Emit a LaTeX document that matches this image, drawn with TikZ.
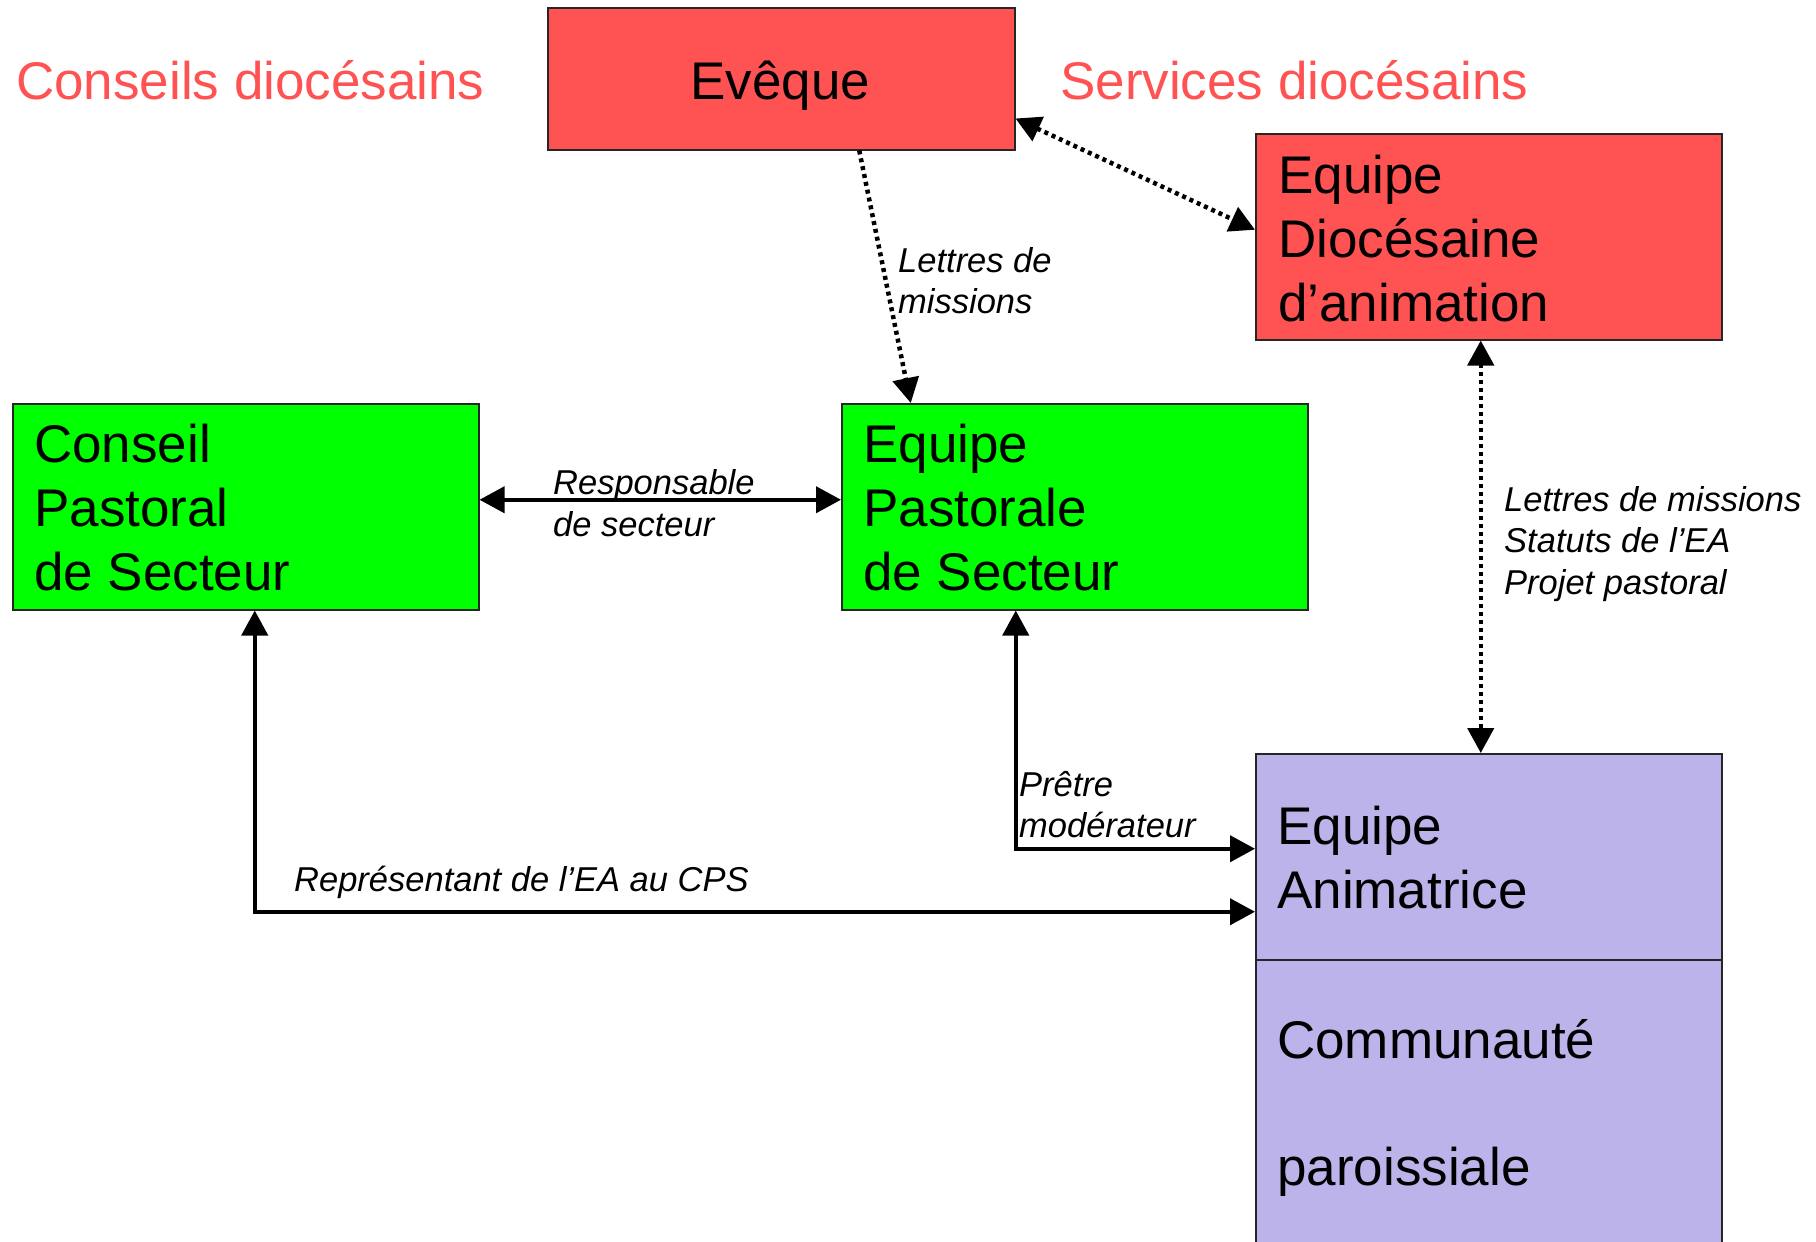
\documentclass[tikz,border=0pt]{standalone}
\usepackage{fontspec}
\setmainfont{Liberation Sans}
\usetikzlibrary{arrows.meta}
\definecolor{redbox}{RGB}{255,82,82}
\definecolor{greenbox}{RGB}{0,255,0}
\definecolor{purplebox}{RGB}{187,179,233}
\definecolor{headcol}{RGB}{255,82,82}
\tikzset{
  box/.style={draw=black!85, line width=1.5pt, inner sep=0pt, anchor=north west},
  bigtext/.style={anchor=base west, inner sep=0pt, font=\fontsize{53}{64}\selectfont, align=left},
  headtext/.style={anchor=base west, inner sep=0pt, font=\fontsize{53}{64}\selectfont, text=headcol},
  lbl/.style={anchor=base west, inner sep=0pt, font=\fontsize{34.5}{41}\selectfont\itshape, align=left},
  conn/.style={line width=4pt, line cap=butt},
  dotconn/.style={line width=4.5pt, dash pattern=on 4pt off 4pt},
  tip/.tip={Triangle[length=25pt, width=26pt]}
}
\begin{document}
\begin{tikzpicture}[x=1pt, y=-1pt]
\useasboundingbox (0,0) rectangle (1816,1242);
\clip (0,0) rectangle (1816,1242);
\fill[white] (0,0) rectangle (1816,1242);

% boxes
\node[box, fill=redbox, minimum width=467pt, minimum height=142pt] (eveque) at (547,7) {};
\node[box, fill=redbox, minimum width=466pt, minimum height=206pt] (eda) at (1255,133) {};
\node[box, fill=greenbox, minimum width=466pt, minimum height=206pt] (cps) at (12,403) {};
\node[box, fill=greenbox, minimum width=466pt, minimum height=206pt] (eps) at (841,403) {};
\node[box, fill=purplebox, minimum width=466pt, minimum height=206pt] (ea) at (1255,753) {};
\node[box, fill=purplebox, minimum width=466pt, minimum height=300pt] (cp) at (1255,959) {};

% box texts
\node[bigtext, anchor=base] (tev) at (780.5,99) {Evêque};
\node[bigtext] (teda1) at (1278,193) {Equipe};
\node[bigtext] (teda2) at (1278,257) {Diocésaine};
\node[bigtext] (teda3) at (1278,321) {d’animation};
\node[bigtext] (tcps1) at (34,462) {Conseil};
\node[bigtext] (tcps2) at (34,526) {Pastoral};
\node[bigtext] (tcps3) at (34,590) {de Secteur};
\node[bigtext] (teps1) at (863,462) {Equipe};
\node[bigtext] (teps2) at (863,526) {Pastorale};
\node[bigtext] (teps3) at (863,590) {de Secteur};
\node[bigtext] (tea1) at (1277,844) {Equipe};
\node[bigtext] (tea2) at (1277,908) {Animatrice};
\node[bigtext] (tcp1) at (1277,1058) {Communauté};
\node[bigtext] (tcp2) at (1277,1185) {paroissiale};

% headers
\node[headtext] (hconseils) at (16,99) {Conseils diocésains};
\node[headtext] (hservices) at (1060,99) {Services diocésains};

% connectors
\draw[dotconn, -{tip}] ([xshift=78pt]eveque.south) -- ([xshift=-164pt]eps.north);
\draw[dotconn, {tip}-{tip}] ([yshift=32pt]eveque.south east) -- ([yshift=7pt]eda.west);
\draw[dotconn, {tip}-{tip}] ([xshift=-8pt]eda.south) -- ([xshift=-8pt]ea.north);
\draw[conn, {tip}-{tip}] ([yshift=7pt]cps.east) -- ([yshift=7pt]eps.west);
\draw[conn, {tip}-{tip}] ([xshift=-59pt]eps.south) |- ([yshift=8pt]ea.west);
\draw[conn, {tip}-{tip}] ([xshift=9pt]cps.south) |- ([yshift=-55pt]ea.west);

% connector labels
\node[lbl] (l1a) at (898,272) {Lettres de};
\node[lbl] (l1b) at (898,313) {missions};
\node[lbl] (l2a) at (1504,511) {Lettres de missions};
\node[lbl] (l2b) at (1504,552) {Statuts de l’EA};
\node[lbl] (l2c) at (1504,594) {Projet pastoral};
\node[lbl] (l3a) at (553,494) {Responsable};
\node[lbl] (l3b) at (553,536) {de secteur};
\node[lbl] (l4a) at (1019,796) {Prêtre};
\node[lbl] (l4b) at (1019,837) {modérateur};
\node[lbl] (l5) at (294,891) {Représentant de l’EA au CPS};
\end{tikzpicture}
\end{document}
